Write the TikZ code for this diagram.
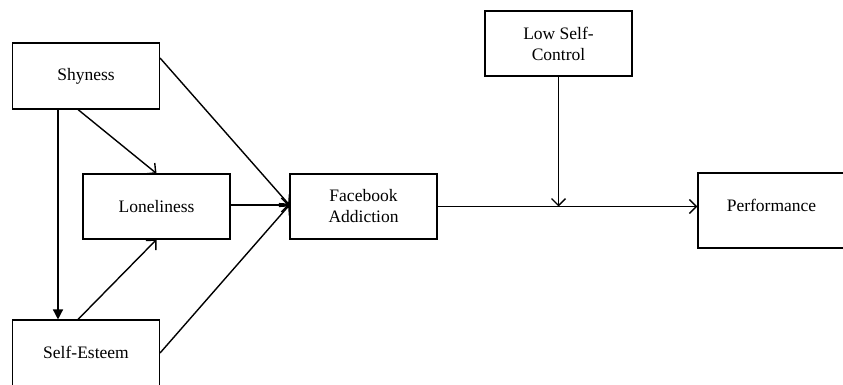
\documentclass[tikz,border=0pt]{standalone}
\usepackage{fontspec}
\setmainfont{Liberation Serif}
\usepackage{tikz}
\usetikzlibrary{arrows.meta}

\begin{document}
\begin{tikzpicture}[x=1pt,y=-1pt,line width=1.4pt,>={Straight Barb[length=7pt,width=14pt]},
  box/.style={draw,rectangle,line width=1.1pt,minimum width=147pt,minimum height=#1,align=center,inner sep=0pt,font=\fontsize{17.5}{21}\selectfont},
  box/.default=66pt]
\useasboundingbox (0,0) rectangle (843,385);
\node[box](shy) at (86,76) {\raisebox{4pt}{Shyness}};
\node[box=65pt](lone) at (156.5,206.5) {Loneliness};
\node[box=70pt](self) at (86,355) {\raisebox{5pt}{Self-Esteem}};
\node[box=65pt](fb) at (363.5,206.5) {Facebook\\Addiction};
\node[box=75pt](perf) at (771.5,210.5) {\raisebox{10pt}{Performance}};
\node[box=65pt](low) at (558.5,43.5) {Low Self-\\Control};
\coordinate (jn) at (low.south |- fb.east);
% paths into the addiction box
\draw[-{Triangle[length=10pt,width=10pt]}] ([xshift=-28pt]shy.south) -- ([xshift=-28pt]self.north);
\draw[->] ([xshift=-8pt]shy.south) -- (lone.north);
\draw[->] ([xshift=-8pt]self.north) -- (lone.south);
\draw[->] ([yshift=18pt]shy.east) -- ([yshift=1.5pt]fb.west);
\draw[->] ([yshift=1.5pt]lone.east) -- ([yshift=1.5pt]fb.west);
\draw[->] ([yshift=2pt]self.east) -- ([yshift=1.5pt]fb.west);
% moderated path
\draw[->] (fb.east) -- (fb.east -| perf.west);
\draw[->] (low.south) -- (jn);
\end{tikzpicture}
\end{document}
